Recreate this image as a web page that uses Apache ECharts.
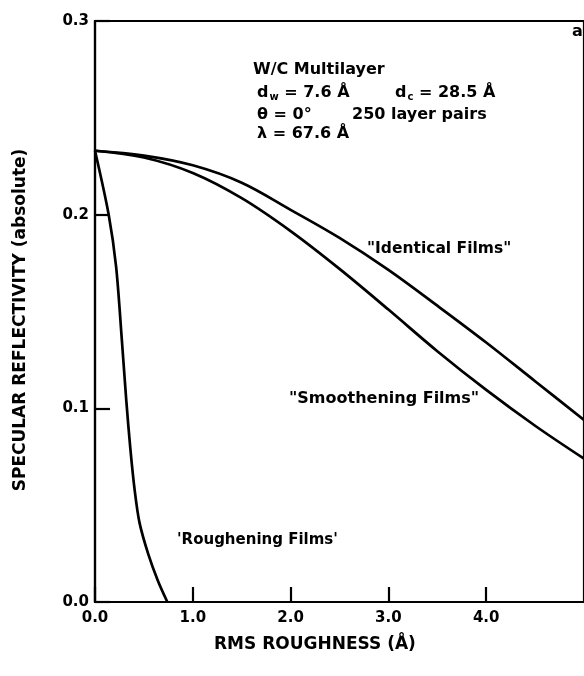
<!DOCTYPE html>
<html>
<head>
<meta charset="utf-8">
<script src="https://cdn.jsdelivr.net/npm/echarts@6/dist/echarts.min.js"></script>
<style>
html,body{margin:0;padding:0;background:#fff;}
#chart{width:584px;height:676px;}
</style>
</head>
<body>
<div id="chart"></div>
<script>
// RMS roughness (Å) and specular reflectivity values
const identicalX = [0, 0.5, 1.0, 1.5, 2.0, 2.5, 3.0, 3.5, 4.0, 4.5, 5.0];
const identicalY = [0.233, 0.2305, 0.2255, 0.2165, 0.2025, 0.1880, 0.1715, 0.1530, 0.1340, 0.1140, 0.0940];

const smoothX = [0, 0.5, 1.0, 1.5, 2.0, 2.5, 3.0, 3.5, 4.0, 4.5, 5.0];
const smoothY = [0.233, 0.2295, 0.2215, 0.2085, 0.1915, 0.1720, 0.1510, 0.1295, 0.1095, 0.0910, 0.0740];

const roughX = [0, 0.14, 0.216, 0.275, 0.32, 0.36, 0.405, 0.455, 0.543, 0.643, 0.74];
const roughY = [0.233, 0.200, 0.173, 0.135, 0.104, 0.080, 0.058, 0.041, 0.025, 0.011, 0.0];

const xTicks = [0, 1, 2, 3, 4];
const yTicks = [0, 0.1, 0.2, 0.3];

const seriesNames = ['"Identical Films"', '"Smoothening Films"', "'Roughening Films'"];
const xTitle = 'RMS ROUGHNESS (Å)';
const yTitle = 'SPECULAR REFLECTIVITY (absolute)';

function pairs(xs, ys) { return xs.map((x, i) => [x, ys[i]]); }

const FONT = '"DejaVu Sans", "Liberation Sans", sans-serif';
const chart = echarts.init(document.getElementById('chart'), null, {renderer: 'canvas'});

const lineStyle = {color: '#000', width: 2.7};
const txt = (x, y, text, size) => ({
  type: 'text', left: x, top: y,
  style: {text: text, font: 'bold ' + size + 'px ' + FONT, fill: '#000'}
});

const richSub = {sub: {font: 'bold 10px ' + FONT, fill: '#000', verticalAlign: 'bottom', padding: [8, 0, 0, 1]}};

chart.setOption({
  animation: false,
  backgroundColor: '#fff',
  grid: {left: 95, top: 21, width: 497, height: 581, show: true, borderColor: '#000', borderWidth: 2.2, backgroundColor: 'transparent'},
  xAxis: {
    type: 'value', min: 0, max: 5, interval: 1,
    axisLine: {show: true, lineStyle: {color: '#000', width: 2.2}},
    axisTick: {show: true, inside: true, length: 15, lineStyle: {color: '#000', width: 2.2}},
    axisLabel: {
      show: true, margin: 9, color: '#000', fontFamily: FONT, fontWeight: 'bold', fontSize: 15,
      showMaxLabel: false,
      formatter: v => (xTicks.indexOf(v) >= 0 ? v.toFixed(1) : '')
    },
    splitLine: {show: false}
  },
  yAxis: {
    type: 'value', min: 0, max: 0.3, interval: 0.1,
    axisLine: {show: true, lineStyle: {color: '#000', width: 2.2}},
    axisTick: {show: true, inside: true, length: 15, lineStyle: {color: '#000', width: 2.2}},
    axisLabel: {
      show: true, margin: 6, color: '#000', fontFamily: FONT, fontWeight: 'bold', fontSize: 15,
      formatter: v => v.toFixed(1)
    },
    splitLine: {show: false}
  },
  series: [
    {name: seriesNames[0], type: 'line', data: pairs(identicalX, identicalY), smooth: 0.35, showSymbol: false, lineStyle: lineStyle, z: 3},
    {name: seriesNames[1], type: 'line', data: pairs(smoothX, smoothY), smooth: 0.35, showSymbol: false, lineStyle: lineStyle, z: 3},
    {name: seriesNames[2], type: 'line', data: pairs(roughX, roughY), smooth: 0.3, showSymbol: false, lineStyle: lineStyle, z: 3}
  ],
  graphic: [
    txt(253, 62, 'W/C Multilayer', 16),
    {type: 'text', left: 257, top: 85, style: {text: 'd{sub|w} = 7.6 Å', font: 'bold 16px ' + FONT, fill: '#000', rich: richSub}},
    {type: 'text', left: 395, top: 85, style: {text: 'd{sub|c} = 28.5 Å', font: 'bold 16px ' + FONT, fill: '#000', rich: richSub}},
    txt(257, 107, 'θ = 0°', 16),
    txt(352, 107, '250 layer pairs', 16),
    txt(257, 126, 'λ = 67.6 Å', 16),
    txt(572, 24, 'a)', 16),
    txt(367, 241, seriesNames[0], 15.5),
    txt(289, 391, seriesNames[1], 16),
    txt(177, 533, seriesNames[2], 15),
    txt(214, 636, xTitle, 17),
    {type: 'text', x: 21, y: 320, rotation: Math.PI / 2,
      style: {text: yTitle, font: 'bold 17px ' + FONT, fill: '#000', align: 'center', verticalAlign: 'middle'}}
  ]
});
</script>
</body>
</html>
